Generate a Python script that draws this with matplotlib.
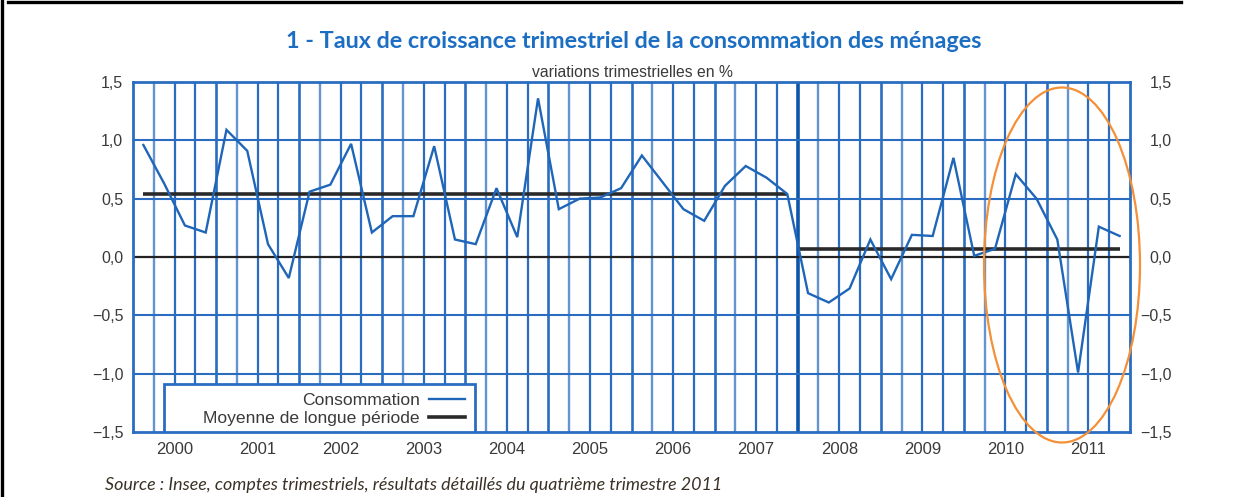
import matplotlib
matplotlib.use("Agg")
import matplotlib.pyplot as plt
from matplotlib.patches import Ellipse, Rectangle
from matplotlib.lines import Line2D
from matplotlib.ticker import FuncFormatter
import numpy as np

# ---------------- data ----------------
years = list(range(2000, 2012))
consommation = [0.96, 0.63, 0.27, 0.21,   # 2000
                1.09, 0.91, 0.11, -0.18,  # 2001
                0.56, 0.62, 0.97, 0.21,   # 2002
                0.35, 0.35, 0.95, 0.15,   # 2003
                0.11, 0.59, 0.17, 1.36,   # 2004
                0.41, 0.50, 0.51, 0.59,   # 2005
                0.87, 0.64, 0.41, 0.31,   # 2006
                0.61, 0.78, 0.68, 0.54,   # 2007
                -0.31, -0.39, -0.27, 0.15,  # 2008
                -0.19, 0.19, 0.18, 0.85,  # 2009
                0.01, 0.07, 0.71, 0.50,   # 2010
                0.15, -0.99, 0.26, 0.18]  # 2011
moyenne_avant_2008 = 0.54
moyenne_depuis_2008 = 0.07
annee_rupture = 2008
yticks = [-1.5, -1.0, -0.5, 0.0, 0.5, 1.0, 1.5]

title = "1 - Taux de croissance trimestriel de la consommation des ménages"
subtitle = "variations trimestrielles en %"
source = "Source : Insee, comptes trimestriels, résultats détaillés du quatrième trimestre 2011"

# ---------------- style ----------------
BLUE = "#1f66b8"
GRID = "#2a6cc0"
TXT = "#3a3a3a"
plt.rcParams["font.family"] = ["Liberation Sans", "DejaVu Sans"]

W, H = 1252, 497
fig = plt.figure(figsize=(W / 100, H / 100), dpi=100)
ax = fig.add_axes([133 / W, 1 - 432 / H, 997 / W, 350 / H])

n = len(consommation)
x = np.arange(n) + 0.5
ax.set_xlim(0, n)
ax.set_ylim(yticks[0], yticks[-1])

rupture = (annee_rupture - years[0]) * 4

# vertical quarter grid
for k in range(1, n):
    if k == rupture:
        ax.axvline(k, color="#0d56aa", lw=2.6, zorder=1)
    elif k % 4 == 0:
        ax.axvline(k, color=GRID, lw=1.9, zorder=1)
    elif k % 4 == 1:
        ax.axvline(k, color=GRID, lw=1.7, alpha=0.72, zorder=1)
    else:
        ax.axvline(k, color=GRID, lw=1.6, zorder=1)

# horizontal grid
for v in yticks[1:-1]:
    if v == 0:
        ax.axhline(0, color="#222222", lw=1.6, zorder=2)
    else:
        ax.axhline(v, color=GRID, lw=1.5, zorder=1)

# long-run means
ax.plot([x[0], x[rupture - 1]], [moyenne_avant_2008] * 2, color="#2a2a2a", lw=2.6,
        solid_capstyle="butt", zorder=3)
ax.plot([rupture, x[-1]], [moyenne_depuis_2008] * 2, color="#2a2a2a", lw=2.6,
        solid_capstyle="butt", zorder=3)

# series
ax.plot(x, consommation, color=BLUE, lw=1.7, zorder=4, solid_joinstyle="miter")

for s in ax.spines.values():
    s.set_color(GRID)
    s.set_linewidth(2.0)

fmt = FuncFormatter(lambda v, p: f"{v:.1f}".replace(".", ",").replace("-", "\u2212"))
ax.set_yticks(yticks)
ax.yaxis.set_major_formatter(fmt)
ax.tick_params(axis="y", length=0, pad=7, labelsize=11.5, labelcolor=TXT)
ax.set_xticks([(y - years[0]) * 4 + 2 for y in years])
ax.set_xticklabels([str(y) for y in years])
ax.tick_params(axis="x", length=0, pad=7, labelsize=12, labelcolor=TXT)

ax2 = ax.twinx()
ax2.set_ylim(ax.get_ylim())
ax2.set_yticks(yticks)
ax2.yaxis.set_major_formatter(fmt)
ax2.tick_params(axis="y", length=0, pad=30, labelsize=11.5, labelcolor=TXT)
for lab in ax2.get_yticklabels():
    lab.set_horizontalalignment("right")
for s in ax2.spines.values():
    s.set_visible(False)

# legend box
box = Rectangle((0.031, 0.0), 0.312, 0.137, transform=ax.transAxes, facecolor="white",
                edgecolor=GRID, lw=2.0, zorder=6)
ax.add_patch(box)
h1 = Line2D([], [], color=BLUE, lw=1.7)
h2 = Line2D([], [], color="#2a2a2a", lw=2.6)
leg = ax.legend([h1, h2], ["Consommation", "Moyenne de longue période"],
                loc="lower right", bbox_to_anchor=(0.337, 0.008), markerfirst=False,
                frameon=False, fontsize=12.6, handlelength=2.1, handletextpad=0.5,
                labelspacing=0.12, borderpad=0.2, borderaxespad=0)
leg.set_zorder(7)
for t in leg.get_texts():
    t.set_color(TXT)

# texts
fig.text(634 / W, 1 - 42 / H, title, ha="center", va="center", fontsize=16.8,
         fontweight="bold", color="#1b6ec2", family=["Lato", "DejaVu Sans"])
fig.text(632 / W, 1 - 72 / H, subtitle, ha="center", va="center", fontsize=11.3, color=TXT)
fig.text(105 / W, 1 - 485 / H, source, ha="left", va="center", fontsize=12.9,
         style="italic", color="#3a3226", family=["Lato", "DejaVu Sans"])

# orange annotation ellipse
fig.patches.append(Ellipse((1062 / W, 1 - 265 / H), 156 / W, 355 / H,
                           transform=fig.transFigure, fill=False,
                           edgecolor="#f39038", lw=1.6, zorder=10))

# page frame
fig.lines.append(Line2D([8 / W, 1181 / W], [1 - 2 / H] * 2, transform=fig.transFigure,
                        color="black", lw=2.4))
fig.lines.append(Line2D([2 / W] * 2, [0, 1], transform=fig.transFigure,
                        color="black", lw=2.4))

fig.savefig("out.png", dpi=100, facecolor="white")
